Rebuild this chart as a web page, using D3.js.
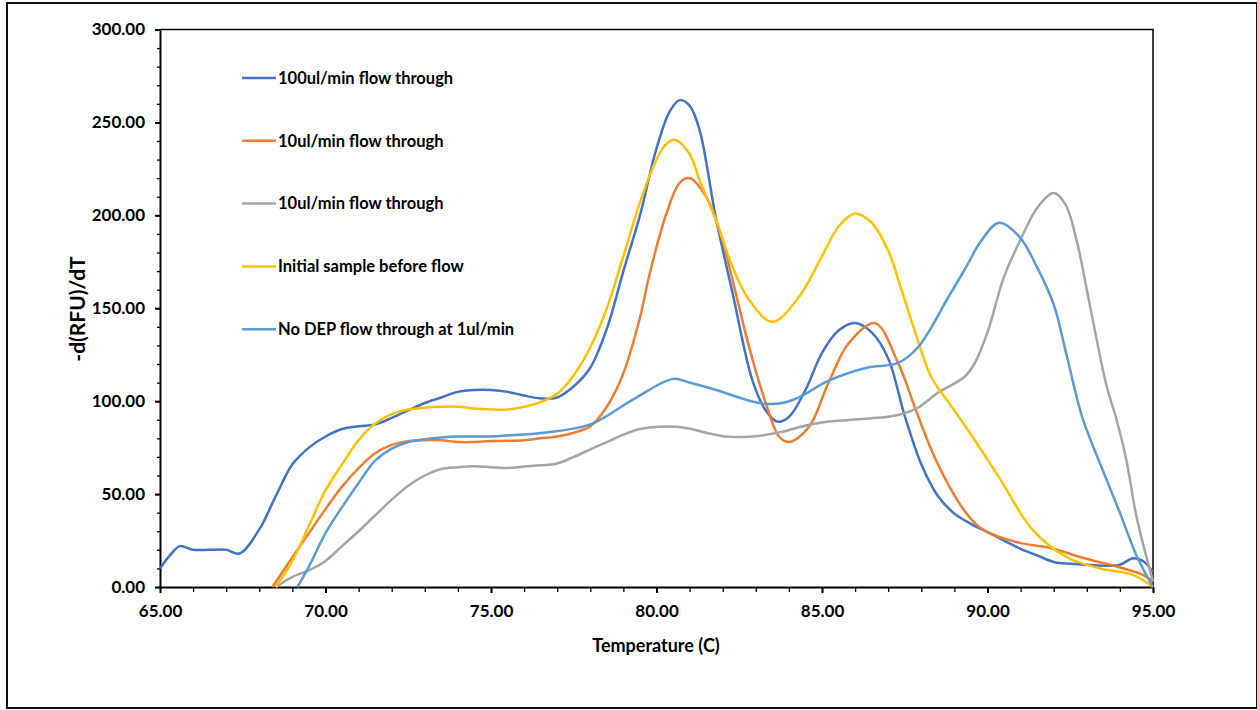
<!DOCTYPE html>
<html>
<head>
<meta charset="utf-8">
<script src="https://cdn.jsdelivr.net/npm/d3@7"></script>
<style>
  body { margin: 0; background: #fff; }
  svg text { font-family: Lato, "Open Sans", sans-serif; font-weight: bold; fill: #000; }
</style>
</head>
<body>
<div id="chart"></div>
<script>
// series: [temperature, -d(RFU)/dT]
const flow100 = [
  [65.0, 10], [65.3, 17], [65.6, 22], [66.0, 20], [66.5, 20], [67.0, 20], [67.4, 18], [68.0, 31],
  [68.5, 49], [69.0, 66], [69.5, 75], [70.0, 81], [70.5, 85], [71.0, 86.5], [71.5, 87.5], [72.0, 91],
  [72.5, 95], [73.0, 99], [73.5, 102], [74.0, 105], [74.5, 106], [75.0, 106], [75.5, 105], [76.0, 103],
  [76.5, 101.5], [77.0, 102], [77.5, 108], [78.0, 118], [78.5, 139], [79.0, 170], [79.5, 200],
  [80.0, 236], [80.4, 256], [80.7, 262], [81.0, 259], [81.3, 246], [81.8, 198], [82.3, 158],
  [82.9, 111], [83.3, 95], [83.65, 89], [84.0, 91.5], [84.5, 106], [85.0, 126], [85.5, 138],
  [86.0, 142], [86.5, 137], [87.0, 123], [87.5, 92], [88.0, 66], [88.5, 49], [89.0, 39.5],
  [89.5, 34], [90.0, 29.5], [90.5, 25], [91.0, 20.5], [91.5, 17], [92.0, 13.5], [92.5, 12.5],
  [93.0, 12], [93.5, 11.5], [94.0, 12], [94.4, 15.5], [94.7, 14], [95.0, 8]
];
const flow10 = [
  [68.4, 0], [69.0, 16], [69.5, 29], [70.0, 42], [70.5, 54], [71.0, 64], [71.5, 72], [72.0, 76.5],
  [72.5, 78.5], [73.0, 79], [73.5, 79], [74.0, 78], [74.5, 78], [75.0, 78.5], [75.5, 78.7], [76.0, 79],
  [76.5, 80], [77.0, 81], [77.5, 83], [78.0, 86.5], [78.5, 97], [79.0, 115], [79.5, 145], [79.8, 169],
  [80.3, 201], [80.7, 217.5], [81.0, 220], [81.5, 210], [82.0, 186], [82.3, 165], [82.8, 129],
  [83.3, 99], [83.7, 81], [84.0, 78], [84.6, 86], [85.2, 110], [85.8, 131], [86.6, 142], [87.3, 120.6],
  [87.8, 97], [88.3, 74], [88.85, 54], [89.35, 40], [89.85, 31], [90.9, 24], [91.9, 21], [92.9, 15.6],
  [93.9, 11], [94.7, 6.5], [95.0, 3]
];
const flow10b = [
  [68.5, 0], [69.0, 5.5], [69.5, 9], [70.0, 14], [70.5, 22], [71.0, 30], [71.5, 38.5], [72.0, 47],
  [72.5, 54.5], [73.0, 60], [73.5, 63.5], [74.0, 64.5], [74.5, 65], [75.0, 64.5], [75.5, 64], [76.0, 64.8],
  [76.5, 65.5], [77.0, 66.5], [77.5, 70], [78.0, 74], [78.5, 78], [79.0, 82], [79.5, 85], [80.1, 86.3],
  [80.9, 85.6], [81.5, 83], [82.1, 81], [82.9, 81], [83.8, 83.5], [84.3, 86], [85.2, 89], [86.3, 90.5],
  [87.3, 92.6], [87.9, 96.5], [88.5, 104.5], [89.3, 113], [89.6, 120], [90.0, 137], [90.5, 167],
  [91.0, 187], [91.5, 204], [92.0, 212], [92.35, 206], [92.7, 186], [93.0, 160], [93.3, 133],
  [93.6, 108], [93.9, 90], [94.2, 68], [94.5, 38], [95.0, 3]
];
const initialSample = [
  [68.5, 0], [69.0, 14], [69.5, 33], [70.0, 52], [70.5, 66], [71.0, 79], [71.5, 88], [72.0, 93],
  [72.5, 95.5], [73.0, 96.5], [73.5, 97], [74.0, 97], [74.5, 96], [75.0, 95.5], [75.5, 95.5], [76.0, 97],
  [76.5, 99.5], [77.0, 104], [77.5, 114], [78.0, 129], [78.5, 150], [79.0, 178], [79.5, 207],
  [80.0, 230], [80.3, 238.5], [80.55, 240.7], [81.0, 233], [81.3, 219], [81.8, 197.6], [82.3, 172],
  [82.8, 154.5], [83.5, 142.7], [84.3, 156], [85.0, 178], [85.5, 194], [86.0, 201], [86.5, 196],
  [87.0, 181], [87.4, 160], [87.8, 138], [88.3, 113], [88.8, 100], [89.35, 86], [90.35, 59],
  [91.35, 31], [92.4, 16], [93.4, 10], [94.4, 6.5], [95.0, 0]
];
const noDep = [
  [69.15, 0], [69.5, 11], [70.0, 29], [70.5, 43], [71.0, 56], [71.5, 68], [72.0, 74.5], [72.5, 78],
  [73.0, 79.5], [73.5, 80.5], [74.0, 81], [75.0, 81], [75.5, 81.5], [76.6, 83], [78.0, 87.5],
  [79.3, 101], [80.5, 112], [81.0, 110], [81.8, 106], [83.1, 99], [83.8, 99], [84.3, 102],
  [85.2, 111], [86.35, 118], [87.3, 120.6], [87.9, 129], [88.85, 157], [89.35, 172], [89.8, 186],
  [90.35, 196], [90.96, 188.5], [91.5, 172], [92.0, 152], [92.4, 124], [92.86, 91.5], [93.5, 62],
  [94.0, 40], [94.5, 17], [95.0, 0]
];

const seriesNames = ["100ul/min flow through", "10ul/min flow through", "10ul/min flow through",
  "Initial sample before flow", "No DEP flow through at 1ul/min"];
const seriesColors = ["#4472C4", "#ED7D31", "#A5A5A5", "#FFC000", "#5B9BD5"];
const seriesData = [flow100, flow10, flow10b, initialSample, noDep];

const xTicks = [65, 70, 75, 80, 85, 90, 95];
const yTicks = [0, 50, 100, 150, 200, 250, 300];

const width = 1257, height = 710;
const plot = {left: 160, right: 1153, top: 29.5, bottom: 587};

const svg = d3.select("#chart").append("svg")
  .attr("width", width)
  .attr("height", height);

// outer frame
svg.append("rect")
  .attr("x", 7).attr("y", 3)
  .attr("width", 1250).attr("height", 705)
  .attr("fill", "none")
  .attr("stroke", "#111")
  .attr("stroke-width", 2);

const x = d3.scaleLinear().domain([65, 95]).range([plot.left, plot.right]);
const y = d3.scaleLinear().domain([0, 300]).range([plot.bottom, plot.top]);

// plot area border (top + right)
svg.append("path")
  .attr("d", `M${plot.left},${plot.top}H${plot.right}V${plot.bottom}`)
  .attr("fill", "none")
  .attr("stroke", "#000")
  .attr("stroke-width", 1.5);

// minor ticks
svg.append("g").attr("transform", `translate(${plot.left},0)`)
  .call(d3.axisLeft(y).ticks(30).tickSize(3).tickFormat(""))
  .call(g => g.select(".domain").remove())
  .call(g => g.selectAll(".tick line").attr("stroke", "#000").attr("stroke-width", 1.3));
svg.append("g").attr("transform", `translate(0,${plot.bottom})`)
  .call(d3.axisBottom(x).ticks(30).tickSize(5).tickFormat(""))
  .call(g => g.select(".domain").remove())
  .call(g => g.selectAll(".tick line").attr("stroke", "#000").attr("stroke-width", 1.3));

// major axes
svg.append("g").attr("transform", `translate(${plot.left},0)`)
  .call(d3.axisLeft(y).tickValues(yTicks).tickSize(5).tickSizeOuter(0).tickPadding(10).tickFormat(d3.format(".2f")))
  .call(g => g.select(".domain").attr("stroke", "#000").attr("stroke-width", 2))
  .call(g => g.selectAll(".tick line").attr("stroke", "#000").attr("stroke-width", 2))
  .call(g => g.selectAll(".tick text").style("font-size", "17px").attr("font-family", null));

svg.append("g").attr("transform", `translate(0,${plot.bottom})`)
  .call(d3.axisBottom(x).tickValues(xTicks).tickSize(6).tickSizeOuter(0).tickPadding(12).tickFormat(d3.format(".2f")))
  .call(g => g.select(".domain").attr("stroke", "#000").attr("stroke-width", 2))
  .call(g => g.selectAll(".tick line").attr("stroke", "#000").attr("stroke-width", 2))
  .call(g => g.selectAll(".tick text").style("font-size", "17px").attr("font-family", null));

// axis titles
svg.append("text")
  .attr("transform", `translate(85,309) rotate(-90)`)
  .attr("text-anchor", "middle")
  .style("font-size", "21px")
  .text("-d(RFU)/dT");

svg.append("text")
  .attr("x", 656).attr("y", 652)
  .attr("text-anchor", "middle")
  .style("font-size", "18px")
  .text("Temperature (C)");

// lines
const line = d3.line()
  .x(d => x(d[0]))
  .y(d => y(d[1]))
  .curve(d3.curveCatmullRom.alpha(0.5));

svg.append("g")
  .selectAll("path")
  .data(seriesData)
  .join("path")
  .attr("d", d => line(d))
  .attr("fill", "none")
  .attr("stroke", (d, i) => seriesColors[i])
  .attr("stroke-width", 2.5)
  .attr("stroke-linejoin", "round");

// legend
const legend = svg.append("g")
  .selectAll("g")
  .data(seriesNames)
  .join("g")
  .attr("transform", (d, i) => `translate(242,${78 + i * 62.8})`);

legend.append("line")
  .attr("x1", 0).attr("x2", 34)
  .attr("stroke", (d, i) => seriesColors[i])
  .attr("stroke-width", 2.5);

legend.append("text")
  .attr("x", 36)
  .attr("dy", "0.35em")
  .style("font-size", "16.5px")
  .text(d => d);
</script>
</body>
</html>
